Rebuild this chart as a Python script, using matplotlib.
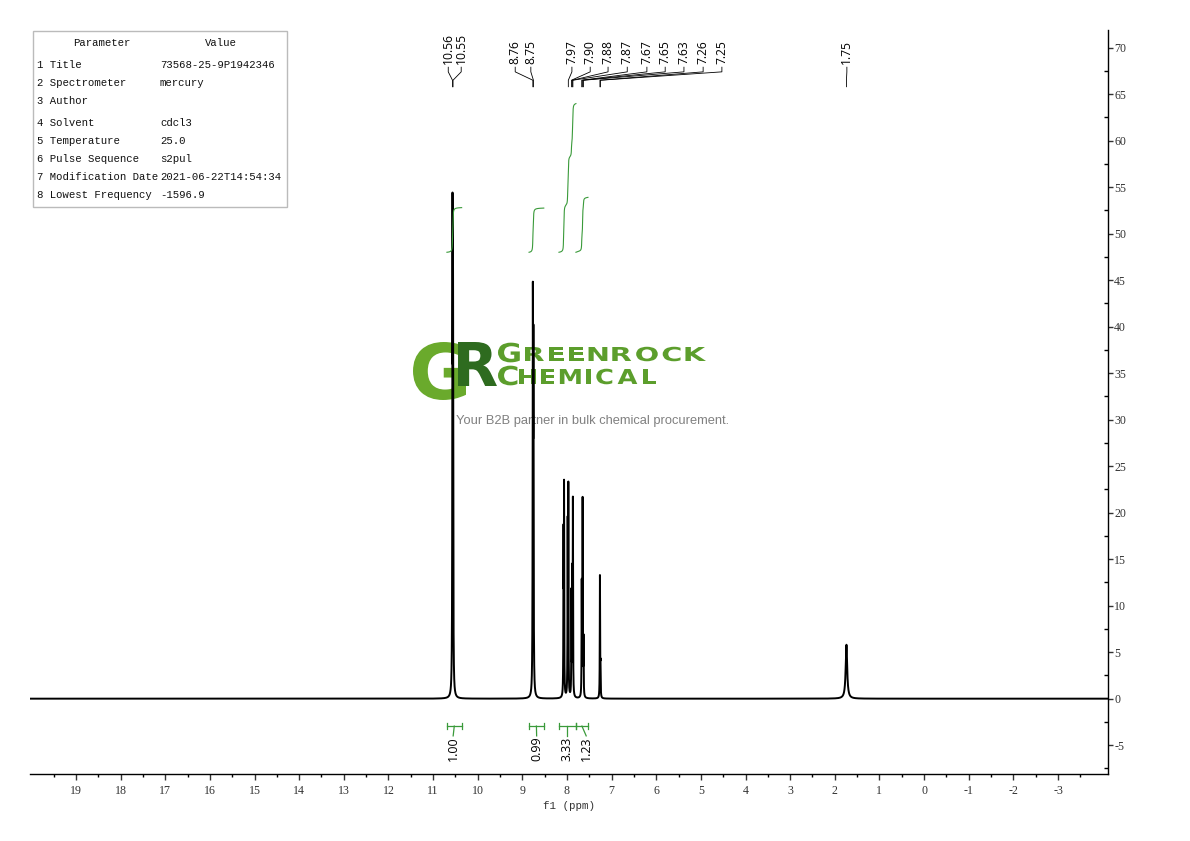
import numpy as np
import matplotlib
matplotlib.use("Agg")
import matplotlib.pyplot as plt
from matplotlib.textpath import TextPath
from matplotlib.patches import PathPatch, Rectangle
from matplotlib.font_manager import FontProperties
from matplotlib.transforms import Affine2D
from matplotlib.ticker import FixedLocator, MultipleLocator

W, H = 1190, 841
plt.rcParams['axes.unicode_minus'] = False

# peak list (ppm, height, half width)
peak_ppm = [10.565, 10.553, 8.765, 8.752, 8.078, 8.066, 7.985, 7.970, 7.900,
            7.880, 7.868, 7.670, 7.650, 7.630, 7.262, 7.250, 1.740]
peak_height = [48.5, 39.6, 40.3, 35.0, 16.5, 21.8, 18.0, 22.0, 11.0,
               12.0, 20.3, 12.0, 21.0, 6.0, 13.0, 3.0, 5.8]
peak_hwhm = [0.005, 0.005, 0.005, 0.005, 0.004, 0.004, 0.004, 0.004, 0.004,
             0.004, 0.004, 0.004, 0.004, 0.004, 0.004, 0.004, 0.02]

# peak labels on top
label_text = ["10.56", "10.55", "8.76", "8.75", "7.97", "7.90", "7.88", "7.87",
              "7.67", "7.65", "7.63", "7.26", "7.25", "1.75"]
label_peak = [10.565, 10.553, 8.765, 8.752, 7.970, 7.900, 7.880, 7.868,
              7.670, 7.650, 7.630, 7.262, 7.250, 1.740]
label_pos = [10.66, 10.37, 9.16, 8.81, 7.89, 7.48, 7.08, 6.65,
             6.21, 5.80, 5.38, 4.95, 4.53, 1.73]

# integrals
integ_start = [10.69, 8.85, 8.18, 7.80]
integ_end = [10.36, 8.52, 7.80, 7.53]
integ_value = [1.00, 0.99, 3.33, 1.23]
integ_text = ["1.00", "0.99", "3.33", "1.23"]
integ_label_x = [10.55, 8.68, 7.99, 7.57]

# parameter table
params = ["1 Title", "2 Spectrometer", "3 Author", "4 Solvent", "5 Temperature",
          "6 Pulse Sequence", "7 Modification Date", "8 Lowest Frequency"]
values = ["73568-25-9P1942346", "mercury", "", "cdcl3", "25.0", "s2pul",
          "2021-06-22T14:54:34", "-1596.9"]
row_y = [65, 83, 101, 123, 141, 159, 177, 195]

x = np.linspace(20.05, -4.15, 60000)
y = np.zeros_like(x)
for p, h, w in zip(peak_ppm, peak_height, peak_hwhm):
    y += h / (1 + ((x - p) / w) ** 2)

fig = plt.figure(figsize=(W / 100, H / 100), dpi=100)
ax = fig.add_axes([30 / W, 1 - 774 / H, (1108 - 30) / W, (774 - 30) / H])
ax.patch.set_alpha(0)

ax.plot(x, y, color='black', lw=1.4, zorder=3)
ax.set_xlim(20.03, -4.12)
ax.set_ylim(-8.1, 71.9)

for s in ['left', 'top']:
    ax.spines[s].set_visible(False)
for s in ['right', 'bottom']:
    ax.spines[s].set_linewidth(1.0)

ax.xaxis.set_major_locator(FixedLocator(range(-3, 20)))
ax.xaxis.set_minor_locator(FixedLocator(np.arange(-3.5, 20, 1.0)))
ax.yaxis.tick_right()
ax.yaxis.set_major_locator(MultipleLocator(5))
ax.yaxis.set_minor_locator(MultipleLocator(2.5))
ax.tick_params(axis='x', which='major', direction='out', length=4, width=1, pad=4, colors='#333333')
ax.tick_params(axis='x', which='minor', direction='out', length=2.5, width=1)
ax.tick_params(axis='y', which='major', direction='out', length=3.5, width=1, pad=1, colors='#333333')
ax.tick_params(axis='y', which='minor', direction='in', length=3, width=1)
for lab in ax.get_xticklabels() + ax.get_yticklabels():
    lab.set_fontfamily('Liberation Serif')
    lab.set_fontsize(8.6)
ax.set_xlabel("f1 (ppm)", fontfamily='Liberation Mono', fontsize=7.8, color='#333333', labelpad=3)

# integral curves
green = '#3a9a3a'
for a, b, v in zip(integ_start, integ_end, integ_value):
    m = (x <= a) & (x >= b)
    c = np.cumsum(y[m])
    c = 48 + c / c[-1] * v * 4.8
    ax.plot(x[m], c, color=green, lw=0.8, zorder=3)

# integral brackets below
for a, b, t, lx in zip(integ_start, integ_end, integ_text, integ_label_x):
    mid = (a + b) / 2
    ax.plot([a, b], [-2.95, -2.95], color=green, lw=0.9)
    ax.plot([a, a], [-2.6, -3.3], color=green, lw=0.9)
    ax.plot([b, b], [-2.6, -3.3], color=green, lw=0.9)
    ax.plot([mid, lx], [-2.95, -4.0], color=green, lw=0.9)
    ax.text(lx, -4.1, t, rotation=90, ha='center', va='top',
            fontfamily='Open Sans', fontsize=9, color='black')

# peak labels
for t, p, lp in zip(label_text, label_peak, label_pos):
    ax.plot([lp, lp, p, p], [67.9, 67.4, 66.5, 65.8], color='black', lw=0.6)
    ax.text(lp, 68.2, t, rotation=90, ha='center', va='bottom',
            fontfamily='Open Sans', fontsize=8.7, color='black')


def px(xp, yp):
    return xp / W, 1 - yp / H


# parameter table
fig.patches.append(Rectangle(px(33, 207), 254 / W, 176 / H, transform=fig.transFigure,
                             facecolor='white', edgecolor='#bbbbbb', lw=1.0, zorder=5))
tabfont = dict(fontfamily='Liberation Mono', fontsize=7.7, color='#111111', zorder=6)
fig.text(*px(102, 43), "Parameter", ha='center', va='center', **tabfont)
fig.text(*px(221, 43), "Value", ha='center', va='center', **tabfont)
for p, v, yy in zip(params, values, row_y):
    fig.text(*px(37, yy), p, ha='left', va='center', **tabfont)
    fig.text(*px(160, yy), v, ha='left', va='center', **tabfont)


# watermark
def fit_word(s, x0, x1, ytop, ybot, color):
    tp = TextPath((0, 0), s, size=100, prop=FontProperties(family='DejaVu Sans', weight='bold'))
    ext = tp.get_extents()
    sx = (x1 - x0) / ext.width / W
    sy = (ybot - ytop) / ext.height / H
    tr = Affine2D().translate(-ext.x0, -ext.y0).scale(sx, sy).translate(x0 / W, 1 - ybot / H)
    ax.add_artist(PathPatch(tp, transform=tr + fig.transFigure, facecolor=color,
                            edgecolor='none', zorder=1))


def spaced_word(s, x0, x1, ytop, ybot, color, stretch=1.3):
    prop = FontProperties(family='DejaVu Sans', weight='bold')
    k = (ybot - ytop) / TextPath((0, 0), 'H', size=100, prop=prop).get_extents().height
    paths = [TextPath((0, 0), ch, size=100, prop=prop) for ch in s]
    exts = [p.get_extents() for p in paths]
    widths = [e.width * k * stretch for e in exts]
    gap = (x1 - x0 - sum(widths)) / max(len(s) - 1, 1)
    cx = x0
    for p, e, w in zip(paths, exts, widths):
        tr = Affine2D().translate(-e.x0, 0).scale(k * stretch / W, k / H).translate(cx / W, 1 - ybot / H)
        ax.add_artist(PathPatch(p, transform=tr + fig.transFigure, facecolor=color,
                                edgecolor='none', zorder=1))
        cx += w + gap


fit_word("G", 413, 466, 342, 400, '#6aaa2c')
fit_word("R", 458, 497, 342, 386, '#2e6b1f')
spaced_word("G", 498, 521, 343, 362, '#5c9e2c', stretch=1.2)
spaced_word("REENROCK", 525, 706, 347, 361, '#5c9e2c', stretch=1.5)
spaced_word("C", 498, 515, 366, 385, '#5c9e2c', stretch=1.2)
spaced_word("HEMICAL", 519, 656, 369, 384, '#5c9e2c', stretch=1.25)
ax.text(*px(456, 421), "Your B2B partner in bulk chemical procurement.", transform=fig.transFigure,
        ha='left', va='center', fontfamily='Liberation Sans', fontsize=9.3, color='#808080', zorder=1)

fig.savefig("out.png", dpi=100)
